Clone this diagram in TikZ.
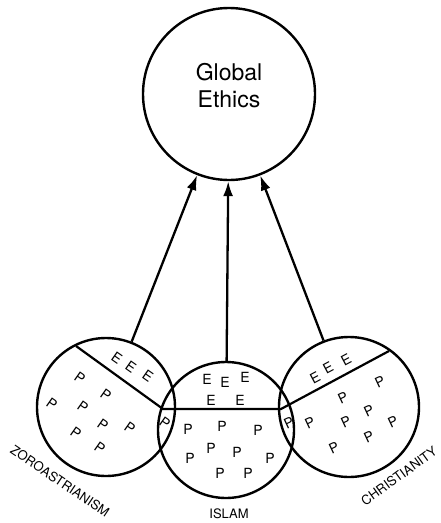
\documentclass[tikz,border=0pt]{standalone}
\usepackage{fontspec}
\setmainfont{TeX Gyre Heros}
\usepackage{tikz}
\usetikzlibrary{arrows.meta,positioning}

\begin{document}
\begin{tikzpicture}
[x=1pt,y=-1pt,>={Latex[length=15pt,width=10pt]},line width=2.3pt]
\tikzstyle{faith}=[circle, draw, line width=2.4pt, inner sep=0pt]
\tikzstyle{ltr}=[inner sep=0pt, font=\fontsize{14}{14}\selectfont]
\tikzstyle{relname}=[inner sep=0pt, font=\fontsize{13}{13}\selectfont]

\useasboundingbox (0,0) rectangle (440,523);

\node[faith, minimum size=172pt] (ge) at (229,94) {};
\node[align=center, font=\fontsize{23}{27}\selectfont] (ge_txt) at (229,86) {Global\\Ethics};

\node[faith, minimum size=138pt] (zor) at (106,407) {};
\node[faith, minimum size=136pt] (isl) at (226,430) {};
\node[faith, minimum size=140pt] (chr) at (349,407) {};

\coordinate (cut_1) at (76,346);
\coordinate (cut_2) at (163,409);
\coordinate (cut_3) at (281,409);
\coordinate (cut_4) at (389,351);
\draw[line width=2.2pt, line join=round] (cut_1) -- (cut_2) -- (cut_3) -- (cut_4);

\foreach \x/\y [count=\i] in {117/358, 131/367, 148/376}
  \node[ltr, rotate=-35] (zor_e\i) at (\x,\y) {E};
\foreach \x/\y [count=\i] in {80/378, 106/395, 52/404, 83/407, 103/425, 130/428, 76/433, 100/448, 165/423}
  \node[ltr, rotate=-35] (zor_p\i) at (\x,\y) {P};

\foreach \x/\y [count=\i] in {207/379, 225/382, 245/377, 211/400, 240/400}
  \node[ltr] (isl_e\i) at (\x,\y) {E};
\foreach \x/\y [count=\i] in {188/429, 222/426, 258/430, 211/448, 190/458, 237/452, 270/458, 220/473, 248/473}
  \node[ltr] (isl_p\i) at (\x,\y) {P};

\foreach \x/\y [count=\i] in {315/378, 328/368, 346/360}
  \node[ltr, rotate=28] (chr_e\i) at (\x,\y) {E};
\foreach \x/\y [count=\i] in {380/382, 343/398, 369/411, 310/423, 346/422, 393/422, 334/448, 369/437, 289/423}
  \node[ltr, rotate=25] (chr_p\i) at (\x,\y) {P};

\node[relname, rotate=-34] (zor_name) at (60,481) {ZOROASTRIANISM};
\node[relname] (isl_name) at (229,514) {ISLAM};
\node[relname, rotate=36] (chr_name) at (399,476) {CHRISTIANITY};

\path[->]
	(zor) edge (ge)
	(isl) edge (ge)
	(chr) edge (ge)
	;
\end{tikzpicture}
\end{document}
